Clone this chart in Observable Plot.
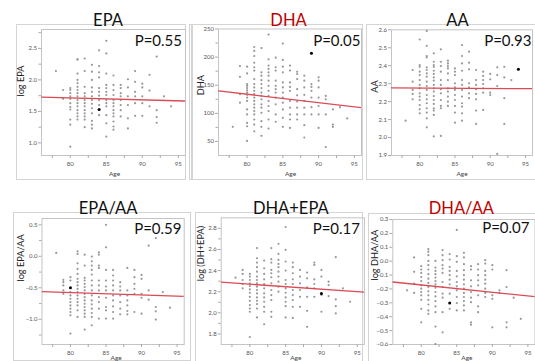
<!DOCTYPE html>
<html>
<head>
<meta charset="utf-8">
<script src="https://cdn.jsdelivr.net/npm/d3@7"></script>
<script src="https://cdn.jsdelivr.net/npm/@observablehq/plot@0.6"></script>
<style>
  html, body { margin: 0; padding: 0; background: #fff; }
  #root { position: relative; width: 535px; height: 361px; overflow: hidden; font-family: Lato, "Liberation Sans", sans-serif; }
  .panel { position: absolute; }
  .box { position: absolute; border: 1px solid #d4d4d4; box-sizing: border-box; }
</style>
</head>
<body>
<div id="root"></div>
<script>
// ---------- data ----------
const ageTicks = [80, 85, 90, 95];
const ageMinorTicks = [77.5, 82.5, 87.5, 92.5];

const titles = ["EPA", "DHA", "AA", "EPA/AA", "DHA+EPA", "DHA/AA"];
const titleRed = [false, true, false, false, false, true];
const pValues = ["P=0.55", "P=0.05", "P=0.93", "P=0.59", "P=0.17", "P=0.07"];
const yLabels = ["log EPA", "DHA", "AA", "log EPA/AA", "log (DH+EPA)", "log DHA/AA"];
const xLabel = "Age";
const ageDomain = [76, 96];
const yDomains = [[0.8, 2.8], [25, 250], [1.9, 2.6], [-1.4, 0.6], [1.7, 2.9], [-0.6, 0.3]];
const yTicks = [
  [1, 1.5, 2, 2.5],
  [50, 100, 150, 200, 250],
  [1.9, 2, 2.1, 2.2, 2.3, 2.4, 2.5, 2.6],
  [-1, -0.5, 0, 0.5],
  [1.8, 2, 2.2, 2.4, 2.6, 2.8],
  [0.3, 0.2, 0.1, 0, -0.1, -0.2, -0.3, -0.4, -0.5, -0.6]
];
const yMinorTicks = [
  [1.25, 1.75, 2.25, 2.75],
  [75, 125, 175, 225],
  [],
  [-1.25, -0.75, -0.25, 0.25],
  [1.9, 2.1, 2.3, 2.5, 2.7],
  []
];
// regression lines (age, value) at the two ends
const fitLines = [
  [[76, 1.725], [96, 1.665]],
  [[76, 140], [96, 110]],
  [[76, 2.277], [96, 2.272]],
  [[76, -0.56], [96, -0.635]],
  [[76, 2.29], [96, 2.195]],
  [[76, -0.15], [96, -0.256]]
];
// the one black point in each panel
const highlights = [[84, 1.53], [89, 207], [94, 2.38], [80, -0.5], [90, 2.184], [84, -0.302]];

// scatter points: [age, [values at that age]]
const epaPoints = [
  [78, [2.14]],
  [79, [1.84, 1.70]],
  [80, [1.87, 1.84, 1.79, 1.74, 1.70, 1.63, 1.57, 1.53, 1.37, 1.29, 0.94]],
  [81, [2.33, 2.32, 2.10, 2.0, 1.95, 1.89, 1.84, 1.79, 1.74, 1.68, 1.63, 1.58, 1.52, 1.47, 1.42, 1.37]],
  [82, [2.34, 2.14, 1.89, 1.79, 1.74, 1.68, 1.63, 1.58, 1.52, 1.47, 1.42, 1.37, 1.25]],
  [83, [2.24, 2.13, 2.0, 1.88, 1.81, 1.74, 1.68, 1.62, 1.55, 1.47, 1.35, 1.29, 1.23]],
  [84, [2.47, 2.22, 2.12, 2.04, 1.87, 1.81, 1.75, 1.68, 1.60, 1.44]],
  [85, [2.62, 2.42, 2.10, 1.92, 1.87, 1.81, 1.76, 1.68, 1.63, 1.58, 1.44, 1.31, 1.10]],
  [86, [2.07, 1.92, 1.84, 1.76, 1.68, 1.63, 1.58, 1.52, 1.47, 1.42, 1.34, 1.26, 1.21]],
  [87, [1.92, 1.87, 1.79, 1.74, 1.68, 1.60, 1.52, 1.42]],
  [88, [2.01, 1.88, 1.74, 1.60, 1.39, 1.23]],
  [89, [2.14, 1.97, 1.81, 1.74, 1.63, 1.43]],
  [90, [1.94, 1.88, 1.74, 1.63, 1.43]],
  [91, [2.08, 1.83, 1.58]],
  [92, [2.37, 1.52, 1.41, 1.32]],
  [93, [1.74]],
  [94, [1.58]]
];
const dhaPoints = [
  [78, [76]],
  [79, [184, 165, 134, 119]],
  [80, [183, 171, 152, 149, 145, 141, 137, 133, 128, 122, 107, 98, 83, 77, 51]],
  [81, [218, 211, 202, 190, 182, 176, 161, 152, 146, 140, 134, 128, 122, 116, 110, 104, 98, 89, 80, 68]],
  [82, [216, 173, 167, 159, 152, 145, 137, 131, 125, 116, 110, 101, 86, 76, 60]],
  [83, [240, 196, 185, 179, 173, 167, 158, 149, 140, 131, 122, 113, 104, 89, 73]],
  [84, [199, 182, 176, 158, 149, 143, 137, 128, 116, 98, 85]],
  [85, [224, 195, 183, 173, 155, 146, 137, 128, 119, 107, 92, 76]],
  [86, [185, 176, 155, 147, 140, 122, 110, 98, 89, 74]],
  [87, [174, 170, 161, 143, 132, 121, 110, 98, 89]],
  [88, [167, 158, 146, 133, 122, 110, 98, 79, 57]],
  [89, [152, 147, 140, 128, 111, 98]],
  [90, [164, 158, 146, 128, 113, 98, 74]],
  [91, [131, 125, 98, 40]],
  [92, [107, 80, 76]],
  [93, [111]],
  [94, [91]]
];
const aaPoints = [
  [78, [2.094]],
  [79, [2.376, 2.311, 2.265, 2.243, 2.213]],
  [80, [2.546, 2.404, 2.394, 2.367, 2.348, 2.32, 2.293, 2.274, 2.246, 2.228, 2.209, 2.181, 2.157, 2.135]],
  [81, [2.594, 2.511, 2.454, 2.446, 2.391, 2.376, 2.357, 2.339, 2.311, 2.287, 2.265, 2.237, 2.213, 2.191, 2.163, 2.139, 2.107, 2.057]],
  [82, [2.469, 2.422, 2.404, 2.394, 2.372, 2.354, 2.335, 2.317, 2.293, 2.274, 2.256, 2.231, 2.209, 2.187, 2.163, 2.15, 2.126, 2.006]],
  [83, [2.491, 2.422, 2.398, 2.367, 2.32, 2.293, 2.269, 2.246, 2.209, 2.176, 2.163, 2.009]],
  [84, [2.428, 2.413, 2.398, 2.385, 2.357, 2.32, 2.274, 2.256, 2.228, 2.2, 2.176]],
  [85, [2.385, 2.367, 2.348, 2.302, 2.28, 2.265, 2.237, 2.209, 2.176, 2.139, 2.083]],
  [86, [2.515, 2.454, 2.413, 2.372, 2.32, 2.293, 2.265, 2.228, 2.191, 2.172, 2.135, 2.094]],
  [87, [2.478, 2.417, 2.38, 2.302, 2.28, 2.246, 2.219]],
  [88, [2.376, 2.32, 2.293, 2.269, 2.243, 2.213, 2.15, 2.076]],
  [89, [2.367, 2.343, 2.32, 2.298, 2.274, 2.25, 2.154]],
  [90, [2.354, 2.324, 2.25, 2.237]],
  [91, [2.391, 2.348, 2.287, 1.909]],
  [92, [2.394, 2.335, 2.219, 2.076]],
  [93, [2.32]]
];
const epaAaPoints = [
  [78, [0.053]],
  [79, [-0.374, -0.41, -0.463, -0.542, -0.595]],
  [80, [-0.332, -0.384, -0.568, -0.621, -0.674, -0.726, -0.779, -0.832, -0.884, -0.937, -1.226]],
  [81, [0.079, 0.037, -0.111, -0.2, -0.279, -0.358, -0.41, -0.463, -0.516, -0.568, -0.621, -0.674, -0.726, -0.779, -0.858, -0.963]],
  [82, [0.026, -0.147, -0.342, -0.384, -0.437, -0.489, -0.542, -0.595, -0.647, -0.7, -0.753, -0.805, -0.858, -0.911, -0.963, -1.163]],
  [83, [-0.005, -0.079, -0.147, -0.216, -0.289, -0.384, -0.463, -0.542, -0.621, -0.7, -0.763, -0.832, -0.9, -0.963, -1.095]],
  [84, [0.063, 0.026, -0.147, -0.184, -0.384, -0.463, -0.542, -0.647, -0.726, -0.832, -0.989]],
  [85, [0.5, 0.142, -0.216, -0.384, -0.479, -0.542, -0.658, -0.805, -0.858, -0.989]],
  [86, [-0.216, -0.305, -0.384, -0.463, -0.542, -0.621, -0.7, -0.795, -0.884, -0.989]],
  [87, [-0.41, -0.479, -0.542, -0.621, -0.726, -0.832, -0.921]],
  [88, [-0.184, -0.542, -0.621, -0.7, -0.779, -0.868, -0.921]],
  [89, [-0.216, -0.332, -0.437, -0.516, -0.595, -0.884]],
  [90, [-0.295, -0.358, -0.595, -0.658, -0.911]],
  [91, [0.168, -0.542, -0.689]],
  [92, [0.289, -0.805, -0.874, -1.005]],
  [93, [-0.568]],
  [94, [-0.816]]
];
const dhaEpaPoints = [
  [78, [2.333]],
  [79, [2.406, 2.368, 2.311, 2.273, 2.232]],
  [80, [2.368, 2.343, 2.311, 2.279, 2.254, 2.222, 2.19, 2.152, 2.114, 2.073, 2.041, 2.01, 1.771]],
  [81, [2.613, 2.517, 2.476, 2.432, 2.39, 2.343, 2.311, 2.279, 2.248, 2.216, 2.184, 2.146, 2.114, 2.083, 2.041, 1.956]],
  [82, [2.495, 2.422, 2.368, 2.317, 2.273, 2.232, 2.184, 2.146, 2.105, 2.057, 2.01, 1.892]],
  [83, [2.613, 2.508, 2.476, 2.406, 2.375, 2.337, 2.279, 2.216, 2.168, 2.121, 2.01, 1.962]],
  [84, [2.654, 2.559, 2.502, 2.463, 2.432, 2.39, 2.343, 2.295, 2.248, 2.2]],
  [85, [2.813, 2.597, 2.486, 2.4, 2.311, 2.273, 2.232, 2.19, 2.146, 2.105, 2.063, 1.956]],
  [86, [2.476, 2.432, 2.375, 2.317, 2.273, 2.216, 2.168, 2.121, 2.057, 1.952]],
  [87, [2.406, 2.343, 2.279, 2.216, 2.152, 2.057]],
  [88, [2.381, 2.327, 2.241, 2.152, 2.019, 1.867]],
  [89, [2.476, 2.454, 2.317, 2.273, 2.232, 2.152]],
  [90, [2.406, 2.343, 2.168, 2.01]],
  [91, [2.295, 2.263, 2.159]],
  [92, [2.527, 2.127, 2.063, 1.994]],
  [93, [2.232]],
  [94, [2.105]]
];
const dhaAaPoints = [
  [78, [-0.21]],
  [79, [0.027, -0.077, -0.162, -0.229]],
  [80, [-0.036, -0.06, -0.085, -0.114, -0.143, -0.174, -0.198, -0.222, -0.246, -0.278, -0.343, -0.44]],
  [81, [0.087, 0.068, 0.043, 0.002, -0.029, -0.06, -0.094, -0.126, -0.157, -0.186, -0.217, -0.246, -0.278, -0.312, -0.355, -0.379]],
  [82, [0.002, -0.046, -0.07, -0.094, -0.118, -0.143, -0.167, -0.191, -0.222, -0.254, -0.287, -0.326, -0.367, -0.471, -0.597]],
  [83, [0.08, 0.043, 0.007, -0.029, -0.053, -0.085, -0.15, -0.186, -0.234, -0.263, -0.367, -0.512]],
  [84, [0.051, 0.012, -0.041, -0.07, -0.101, -0.133, -0.167, -0.234, -0.343]],
  [85, [0.225, 0.036, -0.005, -0.07, -0.109, -0.15, -0.181, -0.21, -0.258, -0.302, -0.355]],
  [86, [0.06, 0.027, -0.022, -0.065, -0.101, -0.133, -0.167, -0.198, -0.229, -0.258, -0.287, -0.319, -0.355]],
  [87, [-0.036, -0.06, -0.138, -0.181, -0.222, -0.263, -0.295, -0.44, -0.457]],
  [88, [-0.022, -0.06, -0.101, -0.138, -0.174, -0.246, -0.326, -0.367]],
  [89, [0.007, -0.017, -0.07, -0.101, -0.133, -0.162, -0.198, -0.229, -0.258]],
  [90, [-0.029, -0.06, -0.246, -0.271, -0.476]],
  [91, [-0.21, -0.229]],
  [92, [-0.065, -0.186, -0.44, -0.476]],
  [93, [-0.263]],
  [94, [-0.415]]
];
const panelPoints = [epaPoints, dhaPoints, aaPoints, epaAaPoints, dhaEpaPoints, dhaAaPoints];

// ---------- layout (positions / sizes only) ----------
const layout = [
  {left: 0,   top: 0,   width: 190, height: 182, ml: 41,   mr: 5,   mt: 29,   mb: 27, tdx: -5.5, tdy: -4,   pdx: -3.5, pdy: 16,   ldx: -18,  ldy: 4,  ady: 20.5, adx: 1},
  {left: 190, top: 0,   width: 175, height: 182, ml: 28,   mr: 4,   mt: 28.5, mb: 27, tdx: -1.5, tdy: -3.5, pdx: -1,   pdy: 16.5, ldx: -14.5,ldy: 3,  ady: 20.5, adx: 0.5},
  {left: 365, top: 0,   width: 170, height: 182, ml: 26,   mr: 3,   mt: 29.3, mb: 27, tdx: -4.5, tdy: -4.3, pdx: -1,   pdy: 15.7, ldx: -13.3,ldy: 0,  ady: 20.5, adx: 0},
  {left: 0,   top: 190, width: 190, height: 171, ml: 41.5, mr: 6.3, mt: 28,   mb: 17, tdx: -5,   tdy: -4.7, pdx: -2.7, pdy: 15.3, ldx: -18.5,ldy: 0,  ady: 15.3, adx: 3},
  {left: 190, top: 190, width: 178, height: 171, ml: 30.7, mr: 4.1, mt: 27.3, mb: 17, tdx: -2,   tdy: -4,   pdx: -4.4, pdy: 16,   ldx: -17.7,ldy: 0,  ady: 15.3, adx: 3},
  {left: 368, top: 190, width: 167, height: 171, ml: 24.3, mr: 0.5, mt: 29,   mb: 17, tdx: -2.5, tdy: -5.7, pdx: -5.5, pdy: 13.3, ldx: -15,  ldy: -1.5, ady: 15.3, adx: 3}
];
const boxes = [
  {left: 16, top: 24, width: 170, height: 156},
  {left: 189, top: 24, width: 3, height: 156},
  {left: 192, top: 24, width: 171, height: 156},
  {left: 366, top: 24, width: 175, height: 156},
  {left: 13, top: 212, width: 178, height: 149},
  {left: 195, top: 212, width: 168, height: 160},
  {left: 368, top: 213, width: 175, height: 160}
];

// ---------- drawing ----------
const root = document.getElementById("root");
for (const b of boxes) {
  const d = document.createElement("div");
  d.className = "box";
  Object.assign(d.style, {left: b.left + "px", top: b.top + "px", width: b.width + "px", height: b.height + "px"});
  root.appendChild(d);
}

const red = "#c00000";
const fontFamily = "Lato, 'Liberation Sans', sans-serif";

panelPoints.forEach((pts, i) => {
  const L = layout[i];
  const data = pts.flatMap(([age, vals]) => vals.map(v => ({age, v})));
  const hl = [{age: highlights[i][0], v: highlights[i][1]}];
  const fit = fitLines[i].map(([age, v]) => ({age, v}));
  const chart = Plot.plot({
    width: L.width,
    height: L.height,
    marginLeft: L.ml, marginRight: L.mr, marginTop: L.mt, marginBottom: L.mb,
    style: {background: "transparent", overflow: "visible", fontFamily},
    x: {domain: ageDomain, label: null},
    y: {domain: yDomains[i], label: null},
    marks: [
      Plot.frame({stroke: "#c4c4c4", strokeWidth: 1}),
      Plot.axisX(ageTicks, {tickSize: 3, tickPadding: 3.5, fontSize: 6, stroke: "#aaa", fill: "#555", label: null}),
      Plot.axisX(ageMinorTicks, {tickSize: 3, tickFormat: () => "", stroke: "#aaa", label: null}),
      Plot.axisY(yTicks[i], {tickSize: 3, tickPadding: 1.5, fontSize: 6, stroke: "#aaa", fill: "#555", label: null}),
      Plot.axisY(yMinorTicks[i], {tickSize: 2.5, tickFormat: () => "", stroke: "#aaa", label: null}),
      Plot.dot(data, {x: "age", y: "v", r: 1.1, fill: "#999", stroke: "none"}),
      Plot.line(fit, {x: "age", y: "v", stroke: "#dc4a55", strokeWidth: 1.3, clip: true}),
      Plot.dot(hl, {x: "age", y: "v", r: 1.5, fill: "#000", stroke: "none"}),
      Plot.text([titles[i]], {frameAnchor: "top", lineAnchor: "bottom", text: d => d, dx: L.tdx, dy: L.tdy, fontSize: 16.5, fill: titleRed[i] ? red : "#111"}),
      Plot.text([pValues[i]], {frameAnchor: "top-right", textAnchor: "end", lineAnchor: "bottom", text: d => d, dx: L.pdx, dy: L.pdy, fontSize: 15, fill: "#111"}),
      Plot.text([yLabels[i]], {frameAnchor: "left", rotate: -90, lineAnchor: "bottom", text: d => d, dx: L.ldx, dy: L.ldy, fontSize: 9.2, fill: "#222"}),
      Plot.text([xLabel], {frameAnchor: "bottom", lineAnchor: "bottom", text: d => d, dx: L.adx, dy: L.ady, fontSize: 6.5, fill: "#444"})
    ]
  });
  const wrap = document.createElement("div");
  wrap.className = "panel";
  wrap.style.left = L.left + "px";
  wrap.style.top = L.top + "px";
  wrap.appendChild(chart);
  root.appendChild(wrap);
});
</script>
</body>
</html>
